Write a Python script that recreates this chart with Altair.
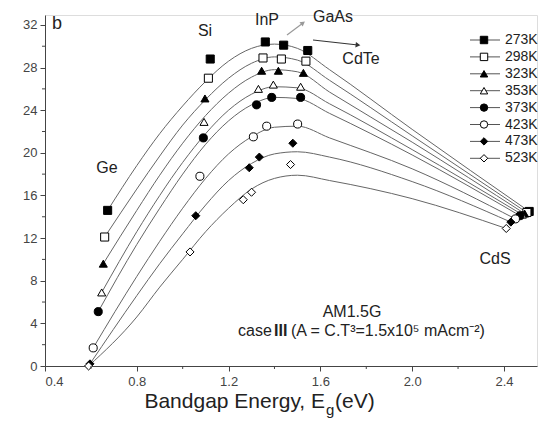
import altair as alt
import pandas as pd

temps = ["273K", "298K", "323K", "353K", "373K", "423K", "473K", "523K"]
shapes = ["square", "square", "triangle-up", "triangle-up", "circle", "circle", "diamond", "diamond"]
fills = ["black", "white", "black", "white", "black", "white", "black", "white"]

# measured points (Ge, Si, InP, GaAs, CdTe, CdS) per temperature
pts_x = {
    "273K": [0.673, 1.12, 1.36, 1.44, 1.545, 2.51],
    "298K": [0.660, 1.112, 1.35, 1.43, 1.537, 2.50],
    "323K": [0.654, 1.097, 1.344, 1.417, 1.526, 2.49],
    "353K": [0.647, 1.093, 1.33, 1.395, 1.514, 2.48],
    "373K": [0.632, 1.09, 1.322, 1.388, 1.514, 2.47],
    "423K": [0.610, 1.075, 1.308, 1.366, 1.501, 2.45],
    "473K": [0.596, 1.057, 1.29, 1.334, 1.48, 2.43],
    "523K": [0.590, 1.032, 1.264, 1.30, 1.47, 2.41],
}
pts_y = {
    "273K": [14.6, 28.8, 30.4, 30.1, 29.6, 14.5],
    "298K": [12.1, 27.0, 28.9, 28.8, 28.6, 14.4],
    "323K": [9.6, 25.1, 27.7, 27.7, 27.5, 14.3],
    "353K": [6.9, 22.9, 26.0, 26.4, 26.2, 14.2],
    "373K": [5.1, 21.4, 24.5, 25.2, 25.2, 14.1],
    "423K": [1.7, 17.8, 21.5, 22.5, 22.7, 13.8],
    "473K": [0.2, 14.1, 18.6, 19.6, 20.9, 13.5],
    "523K": [0.0, 10.7, 15.6, 16.3, 18.9, 12.9],
}

# fitted curves
curve_xgrid = [0.8, 0.9, 1.0, 1.1, 1.2, 1.3, 1.4, 1.5, 1.64, 2.0]
curve_y = {
    "273K": [18.8, 21.8, 24.4, 26.7, 28.6, 29.8, 30.2, 29.8, 27.8, 22.2],
    "298K": [16.6, 19.7, 22.6, 25.0, 27.0, 28.4, 29.0, 28.7, 26.8, 21.6],
    "323K": [14.6, 17.9, 20.9, 23.5, 25.6, 27.1, 27.8, 27.6, 25.7, 21.0],
    "353K": [12.6, 16.0, 19.1, 21.8, 24.0, 25.5, 26.2, 26.1, 24.6, 20.3],
    "373K": [11.4, 14.8, 18.0, 20.8, 23.0, 24.5, 25.2, 25.1, 23.7, 19.8],
    "423K": [8.4, 11.7, 14.8, 17.6, 19.9, 21.5, 22.4, 22.5, 21.4, 18.5],
    "473K": [6.6, 9.6, 12.4, 15.1, 17.4, 19.0, 19.9, 20.1, 19.6, 17.3],
    "523K": [4.6, 7.4, 10.0, 12.6, 14.8, 16.6, 17.6, 17.9, 17.4, 15.7],
}

x_ticks = [0.4, 0.8, 1.2, 1.6, 2.0, 2.4]
x_minor = [0.6, 1.0, 1.4, 1.8, 2.2]
y_ticks = [0, 4, 8, 12, 16, 20, 24, 28, 32]
y_minor = [2, 6, 10, 14, 18, 22, 26, 30]

W, H = 492, 351
FONT = "Liberation Sans"

pts_rows, curve_rows = [], []
for t in temps:
    for x, y in zip(pts_x[t], pts_y[t]):
        pts_rows.append({"T": t, "x": x, "y": y})
    cx = [pts_x[t][0]] + curve_xgrid + [pts_x[t][-1]]
    cy = [pts_y[t][0]] + curve_y[t] + [pts_y[t][-1]]
    for x, y in zip(cx, cy):
        curve_rows.append({"T": t, "x": x, "y": y})
pts_df = pd.DataFrame(pts_rows)
curve_df = pd.DataFrame(curve_rows)

xs = alt.Scale(domain=[0.4, 2.544], nice=False, zero=False)
ys = alt.Scale(domain=[0, 32.93], nice=False, zero=False)

xaxis = alt.Axis(values=x_ticks, format=".1f", title=None, grid=False, tickSize=5,
                 labelFontSize=13, labelColor="#444", labelFont=FONT, labelPadding=4,
                 domainColor="#444", tickColor="#444")
yaxis = alt.Axis(values=y_ticks, format="d", title=None, grid=False, tickSize=5,
                 labelFontSize=13, labelColor="#444", labelFont=FONT, labelPadding=3,
                 domainColor="#444", tickColor="#444")

curves = alt.Chart(curve_df).mark_line(interpolate="monotone", color="#666", strokeWidth=1).encode(
    x=alt.X("x:Q", scale=xs, axis=xaxis),
    y=alt.Y("y:Q", scale=ys, axis=yaxis),
    detail="T:N",
)

points = alt.Chart(pts_df).mark_point(size=65, opacity=1, stroke="black", strokeWidth=1).encode(
    x=alt.X("x:Q", scale=xs),
    y=alt.Y("y:Q", scale=ys),
    shape=alt.Shape("T:N", scale=alt.Scale(domain=temps, range=shapes), legend=None),
    fill=alt.Fill("T:N", scale=alt.Scale(domain=temps, range=fills), legend=None),
)

xminor = alt.Chart(pd.DataFrame({"v": x_minor})).mark_rule(color="#444").encode(
    x=alt.X("v:Q", scale=xs), y=alt.value(H), y2=alt.value(H + 3))
yminor = alt.Chart(pd.DataFrame({"v": y_minor})).mark_rule(color="#444").encode(
    y=alt.Y("v:Q", scale=ys), x=alt.value(0), x2=alt.value(-3))

# legend (pixel layout)
leg = pd.DataFrame({
    "T": temps, "shape": shapes, "fill": fills,
    "ly": [25 + i * 16.9 for i in range(len(temps))],
})
leg["lx1"], leg["lx2"], leg["sx"], leg["tx"] = 425, 455, 439, 460
leg_lines = alt.Chart(leg).mark_rule(color="#555", strokeWidth=1).encode(
    x=alt.X("lx1:Q", scale=None), x2="lx2:Q", y=alt.Y("ly:Q", scale=None))
leg_pts = alt.Chart(leg).mark_point(size=55, opacity=1, stroke="black", strokeWidth=1).encode(
    x=alt.X("sx:Q", scale=None), y=alt.Y("ly:Q", scale=None),
    shape=alt.Shape("shape:N", scale=None), fill=alt.Fill("fill:N", scale=None))
leg_txt = alt.Chart(leg).mark_text(align="left", baseline="middle", fontSize=14, font=FONT, color="#222").encode(
    x=alt.X("tx:Q", scale=None), y=alt.Y("ly:Q", scale=None), text="T:N")

# annotations (pixel layout)
ann = pd.DataFrame([
    {"t": "b", "px": 12, "py": 9, "s": 18, "a": "center"},
    {"t": "Ge", "px": 62, "py": 153, "s": 16, "a": "center"},
    {"t": "Si", "px": 160, "py": 16, "s": 16, "a": "center"},
    {"t": "InP", "px": 222, "py": 5, "s": 16, "a": "center"},
    {"t": "GaAs", "px": 288, "py": 2, "s": 16, "a": "center"},
    {"t": "CdTe", "px": 316, "py": 44, "s": 16, "a": "center"},
    {"t": "CdS", "px": 450, "py": 244, "s": 16, "a": "center"},
    {"t": "AM1.5G", "px": 307, "py": 297, "s": 16, "a": "center"},
    {"t": "case", "px": 193, "py": 316, "s": 16, "a": "left"},
    {"t": "(A = C.T³=1.5x10⁵ mAcm⁻²)", "px": 246, "py": 316, "s": 16, "a": "left"},
])
ann_layers = []
for a in ["center", "left"]:
    sub = ann[ann["a"] == a]
    ann_layers.append(alt.Chart(sub).mark_text(align=a, baseline="middle", font=FONT, color="#222").encode(
        x=alt.X("px:Q", scale=None), y=alt.Y("py:Q", scale=None), text="t:N",
        size=alt.Size("s:Q", scale=None, legend=None)))
bold = alt.Chart(pd.DataFrame({"t": ["III"], "px": [229], "py": [316]})).mark_text(
    align="left", baseline="middle", font=FONT, fontSize=16, fontWeight="bold", color="#222").encode(
    x=alt.X("px:Q", scale=None), y=alt.Y("py:Q", scale=None), text="t:N")

# arrows
arr = pd.DataFrame({"x1": [242, 268], "y1": [20, 25], "x2": [258, 313], "y2": [8, 30],
                    "ang": [54, 96], "c": ["#999", "#333"]})
arr_lines = alt.Chart(arr).mark_rule(strokeWidth=1.2).encode(
    x=alt.X("x1:Q", scale=None), y=alt.Y("y1:Q", scale=None), x2="x2:Q", y2="y2:Q",
    color=alt.Color("c:N", scale=None))
arr_heads = alt.Chart(arr).mark_point(shape="triangle-up", size=30, filled=True, opacity=1).encode(
    x=alt.X("x2:Q", scale=None), y=alt.Y("y2:Q", scale=None),
    angle=alt.Angle("ang:Q", scale=None), color=alt.Color("c:N", scale=None))

# axis title with subscript
title_df = pd.DataFrame([
    {"t": "Bandgap Energy, E", "px": 280, "py": 387, "s": 21, "a": "right"},
    {"t": "g", "px": 281, "py": 395, "s": 15, "a": "left"},
    {"t": "(eV)", "px": 290, "py": 387, "s": 21, "a": "left"},
])
title_layers = []
for a in ["right", "left"]:
    sub = title_df[title_df["a"] == a]
    title_layers.append(alt.Chart(sub).mark_text(align=a, baseline="middle", font=FONT, color="#222").encode(
        x=alt.X("px:Q", scale=None), y=alt.Y("py:Q", scale=None), text="t:N",
        size=alt.Size("s:Q", scale=None, legend=None)))

chart = alt.layer(
    curves, points, xminor, yminor, leg_lines, leg_pts, leg_txt,
    *ann_layers, bold, arr_lines, arr_heads, *title_layers
).properties(
    width=W, height=H,
    autosize=alt.AutoSizeParams(type="none"),
    padding={"left": 37, "top": 7, "right": 2, "bottom": 60},
).configure_view(stroke="#444", strokeWidth=1.2).configure(background="white")

chart.save("out.html", embed_options={"renderer": "svg", "actions": False})
